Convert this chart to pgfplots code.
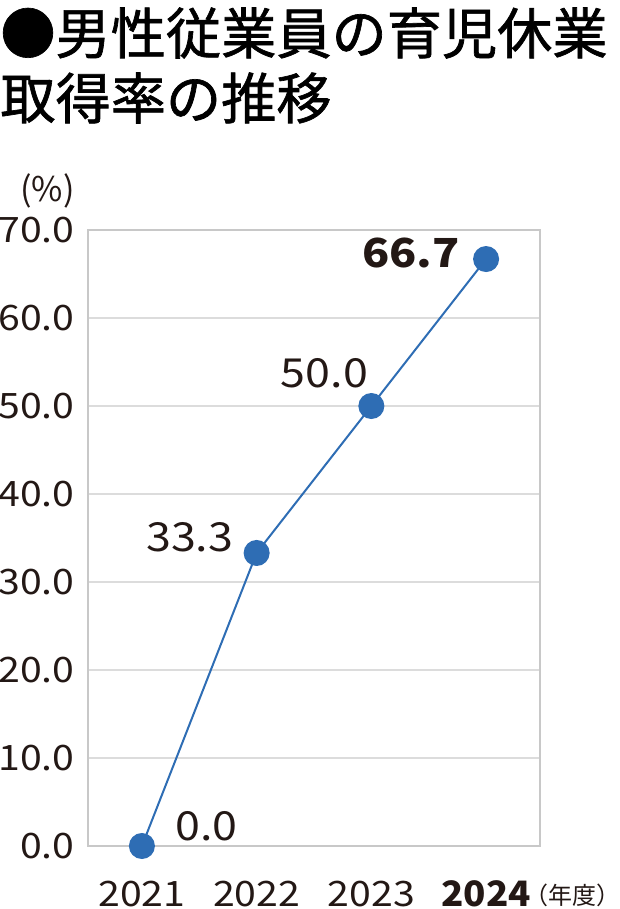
\documentclass[border=0pt]{standalone}
\usepackage{fontspec}
\setmainfont{Noto Sans CJK JP}
\newfontfamily\numfont{Noto Sans CJK JP}[FakeStretch=1.12]
\newfontfamily\titlefont{Noto Sans CJK JP}[FakeBold=1.2]
\usepackage{pgfplots}
\pgfplotsset{compat=1.18}
\definecolor{txt}{HTML}{231815}
\definecolor{lblue}{HTML}{2E6DB4}
\definecolor{gridc}{HTML}{DCDCDC}
\definecolor{framec}{HTML}{C8C8C8}
\begin{document}
\begin{tikzpicture}
\useasboundingbox (0,0) rectangle (310pt,454.5pt);
\node[anchor=west, inner sep=0pt, text=black] at (0pt,438pt) {\titlefont\fontsize{27.6}{30}\selectfont ●男性従業員の育児休業};
\node[anchor=west, inner sep=0pt, text=black] at (0pt,405.5pt) {\titlefont\fontsize{27.6}{30}\selectfont 取得率の推移};
\begin{axis}[
  at={(44pt,31.5pt)}, anchor=south west,
  width=226pt, height=308pt, scale only axis,
  xmin=-0.47, xmax=3.47, ymin=0, ymax=70,
  xtick={0,1,2,3}, xticklabels={2021,2022,2023,{\fontspec{Noto Sans CJK JP}[FakeStretch=1.05]\bfseries 2024}},
  ytick={0,10,20,30,40,50,60,70},
  yticklabel={\pgfmathprintnumber[fixed,fixed zerofill,precision=1]{\tick}},
  /pgf/number format/assume math mode=true,
  major tick length=0pt,
  axis line style={framec, line width=0.8pt},
  ymajorgrids, grid style={gridc, line width=0.8pt},
  tick label style={text=txt, font=\numfont\fontsize{17.5}{20}\selectfont},
  yticklabel style={anchor=east, inner sep=0pt, xshift=-6.5pt},
  xticklabel style={anchor=base, inner sep=0pt, yshift=-30pt},
  clip=false,
]
\addplot[lblue, line width=1pt, mark=*, mark size=6pt, mark options={fill=lblue, draw=lblue}] coordinates {(0,0) (1,33.3) (2,50.0) (3,66.7)};
\node[anchor=west, text=txt, inner sep=0pt, font=\numfont\fontsize{20}{22}\selectfont] at (axis cs:0,0) [xshift=16.5pt, yshift=10pt] {0.0};
\node[anchor=east, text=txt, inner sep=0pt, font=\numfont\fontsize{20}{22}\selectfont] at (axis cs:1,33.3) [xshift=-11.5pt, yshift=8pt] {33.3};
\node[anchor=east, text=txt, inner sep=0pt, font=\numfont\fontsize{20}{22}\selectfont] at (axis cs:2,50.0) [xshift=-1.5pt, yshift=16.5pt] {50.0};
\node[anchor=east, text=txt, inner sep=0pt, font=\numfont\fontsize{20}{22}\selectfont\bfseries] at (axis cs:3,66.7) [xshift=-13pt, yshift=3pt] {66.7};
\end{axis}
\node[anchor=east, text=txt, inner sep=0pt, font=\fontsize{17}{19}\selectfont] at (37.5pt,359pt) {(\%)};
\node[anchor=west, text=txt, inner sep=0pt, font=\fontsize{12}{14}\selectfont] at (262pt,7pt) {（年度）};
\end{tikzpicture}
\end{document}
